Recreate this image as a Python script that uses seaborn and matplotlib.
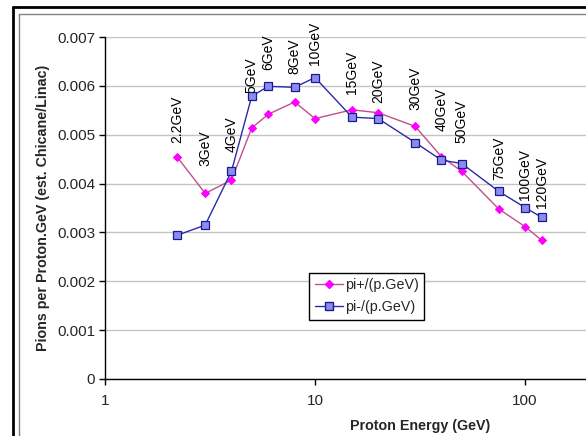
import matplotlib
matplotlib.use("Agg")
import matplotlib.pyplot as plt
import seaborn as sns
import pandas as pd
from matplotlib.lines import Line2D

# proton energies (GeV) and pion yields
energy = [2.2, 3, 4, 5, 6, 8, 10, 15, 20, 30, 40, 50, 75, 100, 120]
pi_plus = [0.00455, 0.00380, 0.00407, 0.00514, 0.00542, 0.00567, 0.00533, 0.00551,
           0.00545, 0.00517, 0.00455, 0.00425, 0.00348, 0.00312, 0.00284]
pi_minus = [0.00294, 0.00315, 0.00425, 0.00579, 0.00599, 0.00597, 0.00617, 0.00536,
            0.00533, 0.00484, 0.00448, 0.00441, 0.00384, 0.00351, 0.00331]
labels = ["2.2GeV", "3GeV", "4GeV", "5GeV", "6GeV", "8GeV", "10GeV", "15GeV",
          "20GeV", "30GeV", "40GeV", "50GeV", "75GeV", "100GeV", "120GeV"]
label_y = [0.00483, 0.00436, 0.00465, 0.00585, 0.00632, 0.00624, 0.00643, 0.00583,
           0.00565, 0.00551, 0.00508, 0.00483, 0.00407, 0.00366, 0.00350]

df = pd.DataFrame({"energy": energy, "pi+/(p.GeV)": pi_plus, "pi-/(p.GeV)": pi_minus})

sns.set_style("white")
plt.rcParams["font.family"] = ["Liberation Sans", "DejaVu Sans"]

fig = plt.figure(figsize=(5.86, 4.36), dpi=100)
# plot area runs on past the right edge of the picture (axis goes to 1000)
ax = fig.add_axes([105 / 586, 1 - 379 / 436, 630 / 586, 342 / 436])

sns.lineplot(data=df, x="energy", y="pi+/(p.GeV)", ax=ax, color="#c0508a", lw=1,
             marker="D", markersize=4.5, markerfacecolor="#ff00ff",
             markeredgecolor="#ff00ff")
sns.lineplot(data=df, x="energy", y="pi-/(p.GeV)", ax=ax, color="#2a2aa8", lw=1,
             marker="s", markersize=5.5, markerfacecolor="#8c8cf0",
             markeredgecolor="#1a1a90", markeredgewidth=0.9)

for e, t, yv in zip(energy, labels, label_y):
    ax.text(e, yv, t, rotation=90, ha="center", va="bottom", fontsize=10, color="black")

ax.set_xscale("log")
ax.set_xlim(1, 1000)
ax.set_ylim(0, 0.007)
ax.set_yticks([i * 0.001 for i in range(8)])
ax.set_yticklabels(["0"] + [f"{i * 0.001:.3f}" for i in range(1, 8)])
ax.set_xticks([1, 10, 100])
ax.set_xticklabels(["1", "10", "100"])
ax.minorticks_off()
ax.yaxis.grid(True, color="#c4c4c4", lw=1)
ax.xaxis.grid(False)
for s in ["top", "right"]:
    ax.spines[s].set_visible(False)
for s in ["left", "bottom"]:
    ax.spines[s].set_color("black")
    ax.spines[s].set_linewidth(1)
ax.tick_params(axis="both", which="major", direction="out", length=4, width=1,
               color="black", labelsize=11, bottom=True, left=True)
ax.tick_params(axis="x", pad=7)
ax.tick_params(axis="y", pad=3)
ax.set_xlabel("Proton Energy (GeV)", fontsize=10.3, fontweight="bold", labelpad=8)
ax.set_ylabel("Pions per Proton.GeV (est. Chicane/Linac)", fontsize=10.3,
              fontweight="bold", labelpad=5)

handles = [
    Line2D([], [], color="#c0508a", lw=1, marker="D", markersize=4.5,
           markerfacecolor="#ff00ff", markeredgecolor="#ff00ff"),
    Line2D([], [], color="#2a2aa8", lw=1, marker="s", markersize=5.5,
           markerfacecolor="#8c8cf0", markeredgecolor="#1a1a90"),
]
leg = ax.legend(handles, ["pi+/(p.GeV)", "pi-/(p.GeV)"], loc="lower left",
                bbox_to_anchor=(204 / 630, 0.1725), borderaxespad=0, fontsize=10.3,
                fancybox=False, framealpha=1, edgecolor="black", handlelength=2.0,
                handletextpad=0.1, borderpad=0.4, labelspacing=0.55)
leg.get_frame().set_linewidth(1)

# page and chart-area borders
fig.add_artist(Line2D([13 / 586, 13 / 586], [0, 1 - 7 / 436], color="black", lw=2,
                      transform=fig.transFigure))
fig.add_artist(Line2D([13 / 586, 1], [1 - 7 / 436, 1 - 7 / 436], color="black", lw=2,
                      transform=fig.transFigure))
fig.add_artist(Line2D([19 / 586, 19 / 586], [0, 1 - 14 / 436], color="#808080", lw=1,
                      transform=fig.transFigure))
fig.add_artist(Line2D([19 / 586, 1], [1 - 14 / 436, 1 - 14 / 436], color="#808080", lw=1,
                      transform=fig.transFigure))

fig.savefig("out.png", dpi=100)
